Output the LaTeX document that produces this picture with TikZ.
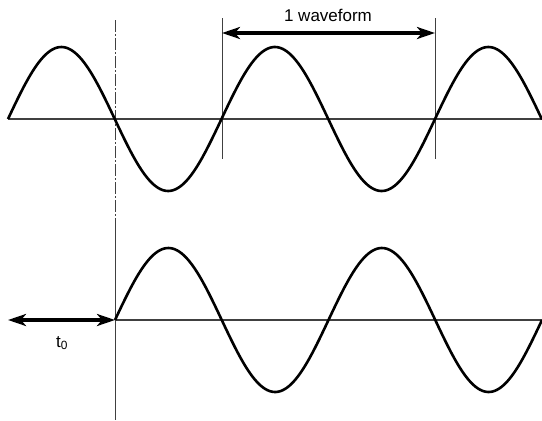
\documentclass[tikz,border=0pt]{standalone}
\usepackage{fontspec}
\setmainfont{Liberation Sans}
\usetikzlibrary{arrows.meta}

\begin{document}
\begin{tikzpicture}[x=1pt,y=-1pt, every node/.style={font=\fontsize{17}{20}\selectfont},
    axis/.style={draw=black!75, line width=1.3pt},
    mark line/.style={draw=black!75, line width=1pt},
    wave/.style={line width=2.6pt, line join=round},
    span/.style={line width=3.4pt, {Stealth[length=18pt,width=12pt,inset=5pt]}-{Stealth[length=18pt,width=12pt,inset=5pt]}}]
    \useasboundingbox (0,0) rectangle (542,421);
    % reference points
    \coordinate (t1) at (8,119);
    \coordinate (t2) at (542,119);
    \coordinate (b0) at (8,320);
    \coordinate (b1) at (115,320);
    \coordinate (b2) at (542,320);
    \coordinate (v1top) at (222,18);
    \coordinate (v1bot) at (222,159);
    \coordinate (v2top) at (435,18);
    \coordinate (v2bot) at (435,159);
    \coordinate (dtop) at (115,20);
    \coordinate (dbot) at (115,222);
    \coordinate (sbot) at (115,420);
    \coordinate (wl) at (222,33);
    \coordinate (wr) at (435,33);
    % axes and marks
    \draw[axis] (t1) -- (t2);
    \draw[axis] (b1) -- (b2);
    \draw[mark line] (v1top) -- (v1bot);
    \draw[mark line] (v2top) -- (v2bot);
    \draw[mark line, dash pattern=on 12pt off 2pt on 2pt off 2pt] (dtop) -- (dbot);
    \draw[mark line] (dbot) -- (sbot);
    % waves
    \draw[wave] plot[domain=8:542, samples=240] (\x, {119-72*sin(1.68618*(\x-8))});
    \draw[wave] plot[domain=115:542, samples=200] (\x, {320-72*sin(1.68618*(\x-115))});
    % spans
    \draw[span] (wl) -- (wr);
    \draw[span] (b0) -- (b1);
    \node (lblw) at (328,15) {1 waveform};
    \node (lblt) at (62,343) {t\textsubscript{0}};
\end{tikzpicture}
\end{document}
